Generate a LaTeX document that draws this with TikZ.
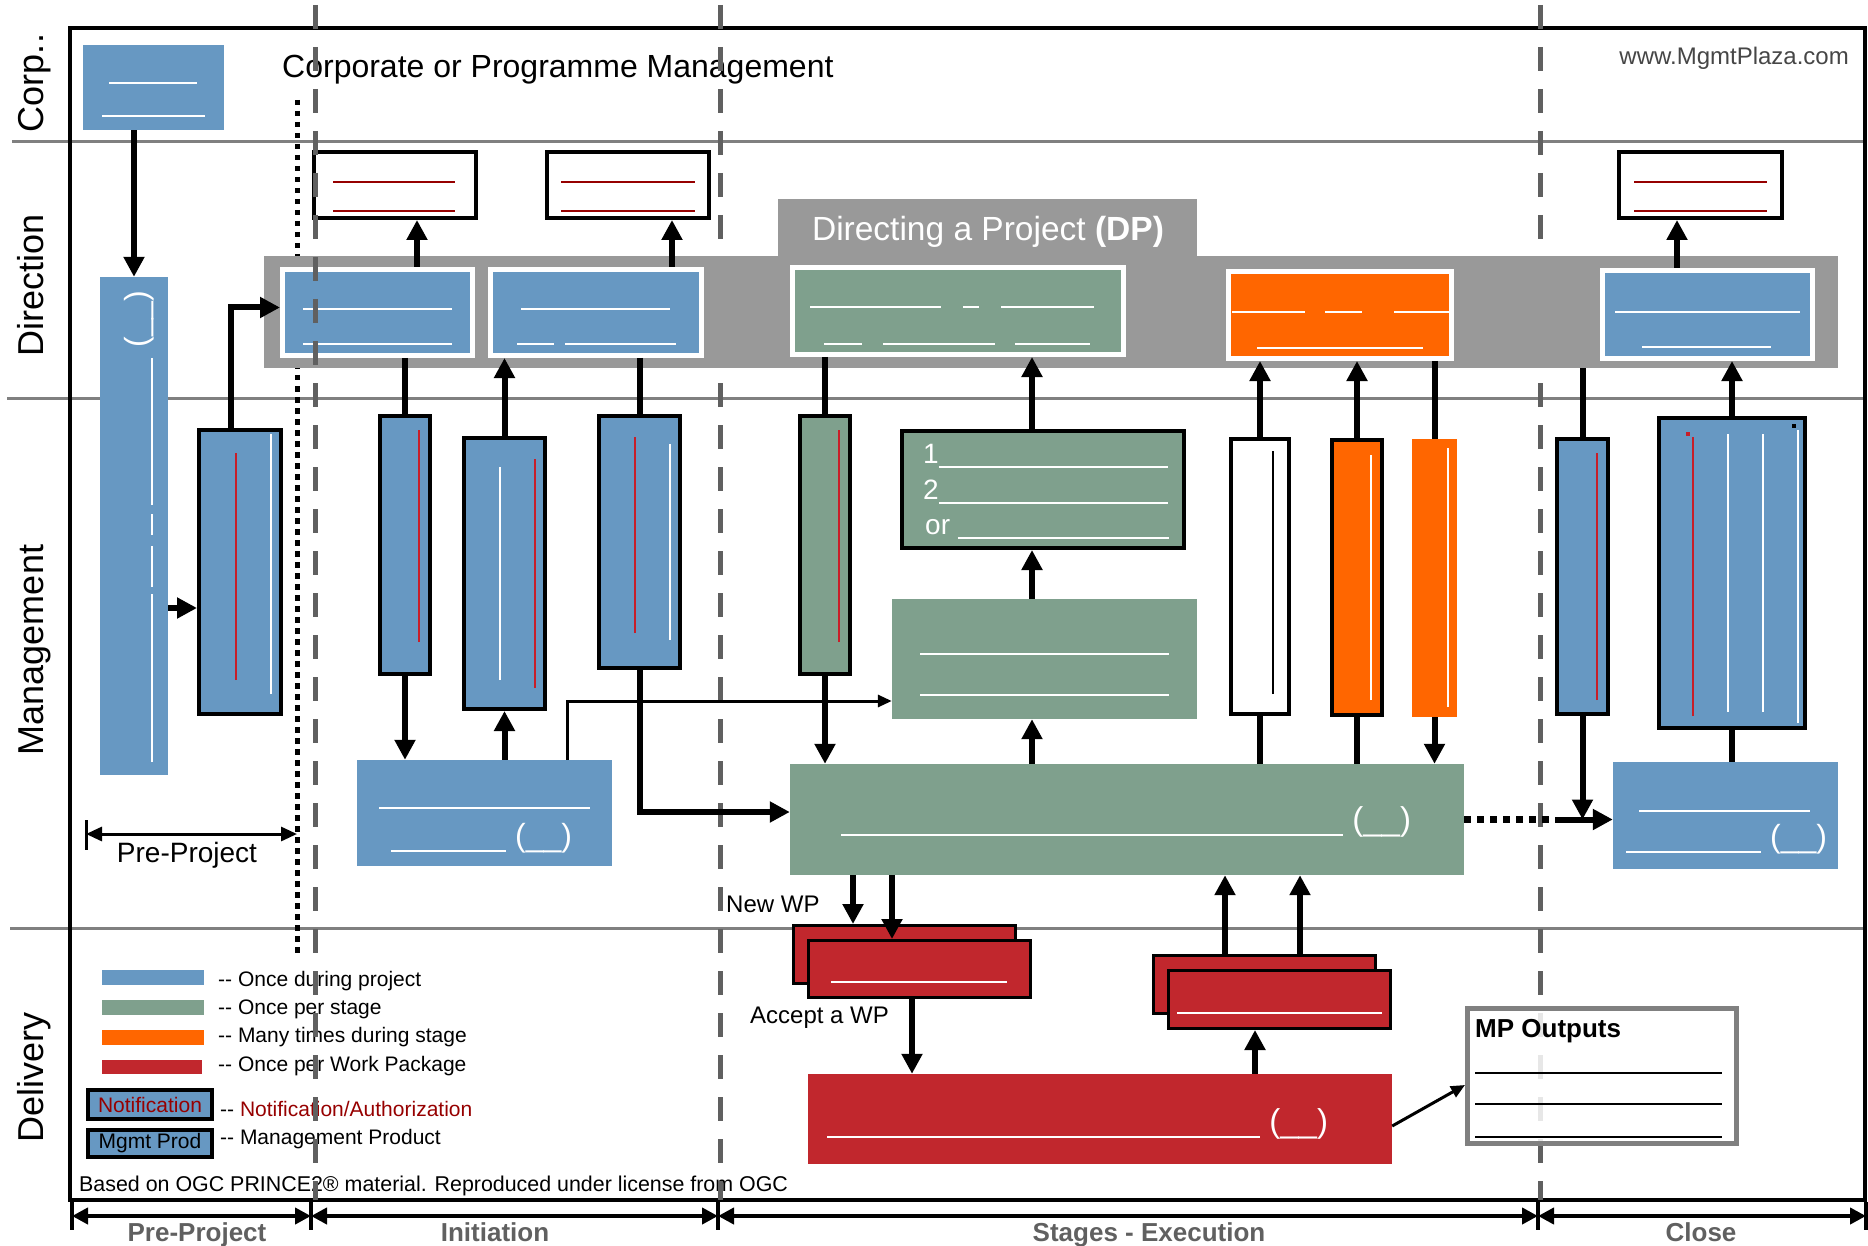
\documentclass[tikz,border=0pt]{standalone}
\usepackage{fontspec}
\setmainfont{Liberation Sans}
\usetikzlibrary{arrows.meta}

\definecolor{mpblue}{RGB}{103,152,194}
\definecolor{mpgreen}{RGB}{127,160,141}
\definecolor{mporange}{RGB}{255,102,0}
\definecolor{mpred}{RGB}{193,39,45}
\definecolor{mpband}{RGB}{153,153,153}
\definecolor{mpdash}{RGB}{96,96,96}
\definecolor{mplane}{RGB}{128,128,128}
\definecolor{notered}{RGB}{150,0,0}
\definecolor{barred}{RGB}{200,30,40}
\definecolor{webgray}{RGB}{70,70,70}

\newcommand{\fsz}[1]{\fontsize{#1}{#1}\selectfont}
\newcommand{\blankline}[1]{\rule{#1}{2pt}}
\newcommand{\blanktext}[1]{\rule[-0.17em]{#1}{2pt}}

\tikzset{
  lanetext/.style={rotate=90, anchor=base, font=\fsz{36}},
  sz/.style 2 args={minimum width=#1pt, minimum height=#2pt},
  procbox/.style={draw=black, line width=4pt, inner sep=0pt},
  dirbox/.style={draw=white, line width=5pt, inner sep=0pt},
  flatbox/.style={inner sep=0pt},
  wpbox/.style={draw=black, line width=3pt, fill=mpred, inner sep=0pt},
  blank/.style={inner sep=0pt, text=white},
  vblank/.style={blank, rotate=90},
  flow/.style={line width=6pt, -{Triangle[length=20pt,width=20pt]}},
  link/.style={line width=6pt},
  thinflow/.style={line width=3pt, -{Triangle[length=14pt,width=12pt]}},
  phase/.style={line width=4pt, {Triangle[length=16pt,width=16pt]}-{Triangle[length=16pt,width=16pt]}},
  phaselabel/.style={font=\fsz{26}\bfseries, text=mpdash, anchor=base},
  stagesep/.style={mpdash, line width=5pt, dash pattern=on 24pt off 18pt},
  lanesep/.style={mplane, line width=3pt},
  legendtext/.style={font=\fsz{21}, anchor=base west, inner sep=0pt},
}

\begin{document}
\begin{tikzpicture}[x=1pt,y=-1pt]
\useasboundingbox (0,0) rectangle (1868,1246);

% swim lanes and frame
\draw[lanesep] (12,142) -- (1865,142);
\draw[lanesep] (7,398) -- (1865,398);
\draw[lanesep] (10,928) -- (1865,928);
\draw[line width=4pt] (70,28) rectangle (1865,1200);

% lane names
\node[lanetext] (lanecorp) at (43,83) {Corp..};
\node[lanetext] (lanedir) at (43,285) {Direction};
\node[lanetext] (lanemgmt) at (43,650) {Management};
\node[lanetext] (lanedel) at (43,1077) {Delivery};

% titles
\node[anchor=base west, font=\fsz{32}, inner sep=0pt] (corptitle) at (282,78) {Corporate or Programme Management};
\node[anchor=base east, font=\fsz{24}, text=webgray, inner sep=0pt] (website) at (1849,65) {www.MgmtPlaza.com};

% legend
\fill[mpblue] (102,970) rectangle (204,985);
\fill[mpgreen] (102,1000) rectangle (204,1015);
\fill[mporange] (102,1030) rectangle (204,1045);
\fill[mpred] (102,1060) rectangle (202,1074);
\node[legendtext] (legblue) at (218,986) {-{}- Once during project};
\node[legendtext] (leggreen) at (218,1014) {-{}- Once per stage};
\node[legendtext] (legorange) at (218,1042) {-{}- Many times during stage};
\node[legendtext] (legred) at (218,1071) {-{}- Once per Work Package};
\node[procbox, fill=mpblue, sz={124}{29}, text=notered, font=\fsz{21}] (legnote) at (150,1104.5) {Notification};
\node[procbox, fill=mpblue, sz={124}{27}, font=\fsz{21}] (legprod) at (150,1143.5) {Mgmt Prod};
\node[legendtext] (legnotetext) at (220,1116) {-{}- \textcolor{notered}{Notification/Authorization}};
\node[legendtext] (legprodtext) at (220,1144) {-{}- Management Product};
\node[legendtext, font=\fsz{21.4}] (credit) at (79,1191) {Based on OGC PRINCE2® material. Reproduced under license from OGC};

% stage boundaries behind the DP band
\draw[stagesep] (720,5) -- (720,1200);
\draw[stagesep] (1540,5) -- (1540,1200);
\draw[line width=5pt, dash pattern=on 5.5pt off 5.5pt] (297,100) -- (297,953);

% Directing a Project band
\node[fill=mpband, sz={1574}{112}, flatbox] (dpband) at (1051,312) {};
\node[fill=mpband, sz={419}{57}, flatbox] (dptab) at (987.5,227.5) {};
\node[font=\fsz{33.5}, text=white, inner sep=0pt] (dptitle) at (988,232) {Directing a Project \textbf{(DP)}};

% corporate
\node[flatbox, fill=mpblue, sz={141}{85}] (corp) at (153.5,87.5) {};

% notifications
\node[procbox, fill=white, sz={162}{66}] (n1) at (395,185) {};
\node[procbox, fill=white, sz={162}{66}] (n2) at (628,185) {};
\node[procbox, fill=white, sz={163}{66}] (n3) at (1700.5,185) {};

% DP activities
\node[dirbox, fill=mpblue, sz={190}{86}] (d1) at (377.5,312.5) {};
\node[dirbox, fill=mpblue, sz={211}{86}] (d2) at (596,312.5) {};
\node[dirbox, fill=mpgreen, sz={331}{87}] (d3) at (958,311) {};
\node[dirbox, fill=mporange, sz={223}{87}] (d4) at (1340,315) {};
\node[dirbox, fill=mpblue, sz={210}{88}] (d5) at (1707.5,314.5) {};

% pre-project
\node[flatbox, fill=mpblue, sz={68}{498}] (tall) at (134,526) {};
\node[procbox, fill=mpblue, sz={82}{284}] (p2) at (240,572) {};

% initiation
\node[procbox, fill=mpblue, sz={50}{258}] (m1) at (405,545) {};
\node[procbox, fill=mpblue, sz={81}{271}] (m2) at (504.5,573.5) {};
\node[procbox, fill=mpblue, sz={81}{252}] (m3) at (639.5,542) {};
\node[flatbox, fill=mpblue, sz={255}{106}] (init) at (484.5,813) {};

% stages
\node[procbox, fill=mpgreen, sz={50}{258}] (m4) at (825,545) {};
\node[procbox, fill=mpgreen, sz={282}{117}] (g1) at (1043,489.5) {};
\node[flatbox, fill=mpgreen, sz={305}{120}] (g2) at (1044.5,659) {};
\node[flatbox, fill=mpgreen, sz={674}{111}] (bg) at (1127,819.5) {};
\node[procbox, fill=white, sz={58}{275}] (wb) at (1260,576.5) {};
\node[procbox, fill=mporange, sz={50}{275}] (o1) at (1357,577.5) {};
\node[flatbox, fill=mporange, sz={45}{278}] (o2) at (1434.5,578) {};

% close
\node[procbox, fill=mpblue, sz={51}{275}] (c1) at (1582.5,576.5) {};
\node[procbox, fill=mpblue, sz={146}{310}] (c2) at (1732,573) {};
\node[flatbox, fill=mpblue, sz={225}{107}] (c3) at (1725.5,815.5) {};

% delivery
\node[wpbox, sz={222}{58}] (r1a) at (904.5,954.5) {};
\node[wpbox, sz={222}{57}] (r1b) at (919.5,969) {};
\node[wpbox, sz={222}{58}] (r2a) at (1264.5,984.5) {};
\node[wpbox, sz={222}{58}] (r2b) at (1279.5,999.5) {};
\node[flatbox, fill=mpred, sz={584}{90}] (rb) at (1100,1119) {};

% connectors
\draw[flow] (tall.north |- corp.south) -- (tall.north);
\draw[flow] ([yshift=-82pt]tall.east) -- ([yshift=-36pt]p2.west);
\draw[flow] ([xshift=-9pt]p2.north) |- ([yshift=5pt]d1.west);
\draw[flow] ([xshift=39.5pt]d1.north) -- ([xshift=22pt]n1.south);
\draw[flow] ([xshift=76pt]d2.north) -- ([xshift=44pt]n2.south);
\draw[flow] ([xshift=-30.5pt]d5.north) -- ([xshift=-23.5pt]n3.south);
\draw[link] (m1.north |- d1.south) -- (m1.north);
\draw[flow] (m2.north) -- (m2.north |- d2.south);
\draw[link] (m3.north |- d2.south) -- (m3.north);
\draw[link] (m4.north |- d3.south) -- (m4.north);
\draw[flow] (m1.south) -- (m1.south |- init.north);
\draw[flow] (m2.south |- init.north) -- (m2.south);
\draw[thinflow] ([xshift=82.5pt]init.north) |- ([yshift=-42pt]g2.west);
\draw[flow] (m3.south) |- ([yshift=7.5pt]bg.west);
\draw[flow] (m4.south) -- (m4.south |- bg.north);
\draw[flow] ([xshift=-95pt]bg.north) -- ([xshift=-12.5pt]g2.south);
\draw[flow] ([xshift=-12.5pt]g2.north) -- ([xshift=-11pt]g1.south);
\draw[flow] ([xshift=-11pt]g1.north) -- ([xshift=74pt]d3.south);
\draw[link] (wb.south |- bg.north) -- (wb.south);
\draw[flow] (wb.north) -- (wb.north |- d4.south);
\draw[link] (o1.south |- bg.north) -- (o1.south);
\draw[flow] (o1.north) -- (o1.north |- d4.south);
\draw[link] (o2.north |- d4.south) -- (o2.north);
\draw[flow] (o2.south) -- (o2.south |- bg.north);
\draw[link] (c1.north |- dpband.south) -- (c1.north);
\draw[line width=7pt, dash pattern=on 7pt off 6pt] (bg.east) -- (bg.east -| c1.west);
\draw[flow] (c1.south) -- (c1.south |- bg.east);
\draw[flow] (bg.east -| c1.west) -- (bg.east -| c3.west);
\draw[flow] (c2.north) -- (c2.north |- d5.south);
\draw[link] (c2.south) -- (c2.south |- c3.north);
\draw[flow] ([xshift=-274pt]bg.south) -- ([xshift=-51.5pt]r1a.north);
\draw[flow] ([xshift=-235pt]bg.south) -- ([xshift=-27.5pt]r1b.north);
\draw[flow] ([xshift=-7.5pt]r1b.south) -- ([xshift=-188pt]rb.north);
\draw[flow] ([xshift=-39.5pt]r2a.north) -- ([xshift=98pt]bg.south);
\draw[flow] ([xshift=35.5pt]r2a.north) -- ([xshift=173pt]bg.south);
\draw[flow] ([xshift=155pt]rb.north) -- ([xshift=-24.5pt]r2b.south);

% blanked texts
\node[blank, anchor=west] (corpa) at (109,83) {\blankline{88pt}};
\node[blank, anchor=west] (corpb) at (102,116) {\blankline{103pt}};
\node[blank, anchor=west, text=notered] (n1a) at (333,182) {\blankline{122pt}};
\node[blank, anchor=west, text=notered] (n1b) at (333,211) {\blankline{122pt}};
\node[blank, anchor=west, text=notered] (n2a) at (561,182) {\blankline{134pt}};
\node[blank, anchor=west, text=notered] (n2b) at (561,211) {\blankline{134pt}};
\node[blank, anchor=west, text=notered] (n3a) at (1634,182) {\blankline{133pt}};
\node[blank, anchor=west, text=notered] (n3b) at (1634,211) {\blankline{133pt}};
\node[blank, anchor=west] (d1a) at (303,309) {\blankline{149pt}};
\node[blank, anchor=west] (d1b) at (303,344) {\blankline{149pt}};
\node[blank, anchor=west] (d2a) at (521,309) {\blankline{149pt}};
\node[blank, anchor=west] (d2b) at (517,344) {\blankline{37pt}\hspace{11pt}\blankline{111pt}};
\node[blank, anchor=west] (d3a) at (810,307) {\blankline{131pt}\hspace{22pt}\blankline{16pt}\hspace{22pt}\blankline{93pt}};
\node[blank, anchor=west] (d3b) at (824,344) {\blankline{38pt}\hspace{21pt}\blankline{112pt}\hspace{20pt}\blankline{75pt}};
\node[blank, anchor=west] (d4a) at (1232,312) {\blankline{73pt}\hspace{20pt}\blankline{37pt}\hspace{32pt}\blankline{56pt}};
\node[blank, anchor=west] (d4b) at (1257,348) {\blankline{166pt}};
\node[blank, anchor=west] (d5a) at (1615,312) {\blankline{185pt}};
\node[blank, anchor=west] (d5b) at (1642,347) {\blankline{129pt}};

\node[vblank, font=\fsz{32}] (tallparen) at (139,319) {(\_\_)};
\node[vblank] (talla) at (152,560) {\blankline{168pt}\hspace{7pt}\blankline{41pt}\hspace{11pt}\blankline{21pt}\hspace{9pt}\blankline{147pt}};
\node[vblank, text=barred] (p2a) at (236,566.5) {\blankline{227pt}};
\node[vblank] (p2b) at (271,564) {\blankline{260pt}};
\node[vblank, text=barred] (m1a) at (419,536) {\blankline{212pt}};
\node[vblank] (m2a) at (500,573.5) {\blankline{213pt}};
\node[vblank, text=barred] (m2b) at (535,573.5) {\blankline{229pt}};
\node[vblank, text=barred] (m3a) at (635,535) {\blankline{196pt}};
\node[vblank] (m3b) at (670,542) {\blankline{196pt}};
\node[vblank, text=barred] (m4a) at (839,536) {\blankline{212pt}};
\node[vblank, text=black] (wba) at (1273,572.5) {\blankline{243pt}};
\node[vblank] (o1a) at (1371,577.5) {\blankline{245pt}};
\node[vblank] (o2a) at (1448,577.5) {\blankline{259pt}};
\node[vblank, text=barred] (c1a) at (1597,576.5) {\blankline{247pt}};
\node[vblank, text=barred] (c2a) at (1693,576.5) {\blankline{279pt}};
\node[vblank] (c2b) at (1728,573) {\blankline{278pt}};
\node[vblank] (c2c) at (1763,573) {\blankline{278pt}};
\node[vblank] (c2d) at (1798,576.5) {\blankline{293pt}};
\fill[barred] (1686,432) rectangle (1690,436);
\fill[black] (1792,424) rectangle (1796,428);

\node[blank, anchor=base west, font=\fsz{28}] (g1a) at (923,463) {1\blanktext{229pt}};
\node[blank, anchor=base west, font=\fsz{28}] (g1b) at (923,499) {2\blanktext{229pt}};
\node[blank, anchor=base west, font=\fsz{28}] (g1c) at (925,534) {or\ \blanktext{211pt}};
\node[blank, anchor=west] (g2a) at (920,654) {\blankline{249pt}};
\node[blank, anchor=west] (g2b) at (920,695) {\blankline{249pt}};
\node[blank, anchor=west] (inita) at (379,808) {\blankline{211pt}};
\node[blank, anchor=base west, font=\fsz{32}] (initb) at (391,846.5) {\blanktext{115pt}\ (\_\_)};
\node[blank, anchor=base west, font=\fsz{33}] (bga) at (841,830.5) {\blanktext{502pt}\ (\_\_)};
\node[blank, anchor=west] (c3a) at (1639,811) {\blankline{171pt}};
\node[blank, anchor=base west, font=\fsz{32}] (c3b) at (1626,847.5) {\blanktext{135pt}\ (\_\_)};
\node[blank, anchor=west] (r1ba) at (831,982) {\blankline{176pt}};
\node[blank, anchor=west] (r2ba) at (1177,1013) {\blankline{205pt}};
\node[blank, anchor=base west, font=\fsz{33}] (rba) at (827,1132.5) {\blanktext{433pt}\ (\_\_)};

\node[anchor=base west, font=\fsz{24}, inner sep=0pt] (newwp) at (726,912) {New WP};
\node[anchor=base west, font=\fsz{24}, inner sep=0pt] (acceptwp) at (750,1023) {Accept a WP};

% initiation boundary on top
\draw[stagesep] (315,5) -- (315,1200);

% management product outputs
\node[draw=mplane, line width=5pt, fill=white, fill opacity=0.85, sz={269}{135}, inner sep=0pt] (mpout) at (1602,1076) {};
\draw[thinflow] ([yshift=-7pt]rb.east) -- ([yshift=-9pt]mpout.west);
\node[anchor=base west, font=\fsz{26}\bfseries, inner sep=0pt] (mptitle) at (1475,1037) {MP Outputs};
\node[blank, anchor=west, text=black] (mpa) at (1475,1073) {\blankline{247pt}};
\node[blank, anchor=west, text=black] (mpb) at (1475,1104) {\blankline{247pt}};
\node[blank, anchor=west, text=black] (mpc) at (1475,1137) {\blankline{247pt}};

% pre-project span
\draw[line width=3pt, {Triangle[length=16pt,width=14pt]}-{Triangle[length=16pt,width=14pt]}] (86,834) -- (297,834);
\draw[line width=3pt] (86,820) -- (86,850);
\node[anchor=base, font=\fsz{28}, inner sep=0pt] (prelabel) at (187,862) {Pre-Project};

% phases
\foreach \x in {72,311,718,1538,1866}
  \draw[line width=4pt] (\x,1202) -- (\x,1230);
\draw[phase] (72,1216) -- (311,1216);
\draw[phase] (311,1216) -- (718,1216);
\draw[phase] (718,1216) -- (1538,1216);
\draw[phase] (1538,1216) -- (1866,1216);
\node[phaselabel] (phpre) at (197,1241) {Pre-Project};
\node[phaselabel] (phinit) at (495,1241) {Initiation};
\node[phaselabel] (phstages) at (1149,1241) {Stages - Execution};
\node[phaselabel] (phclose) at (1701,1241) {Close};

\end{tikzpicture}
\end{document}
